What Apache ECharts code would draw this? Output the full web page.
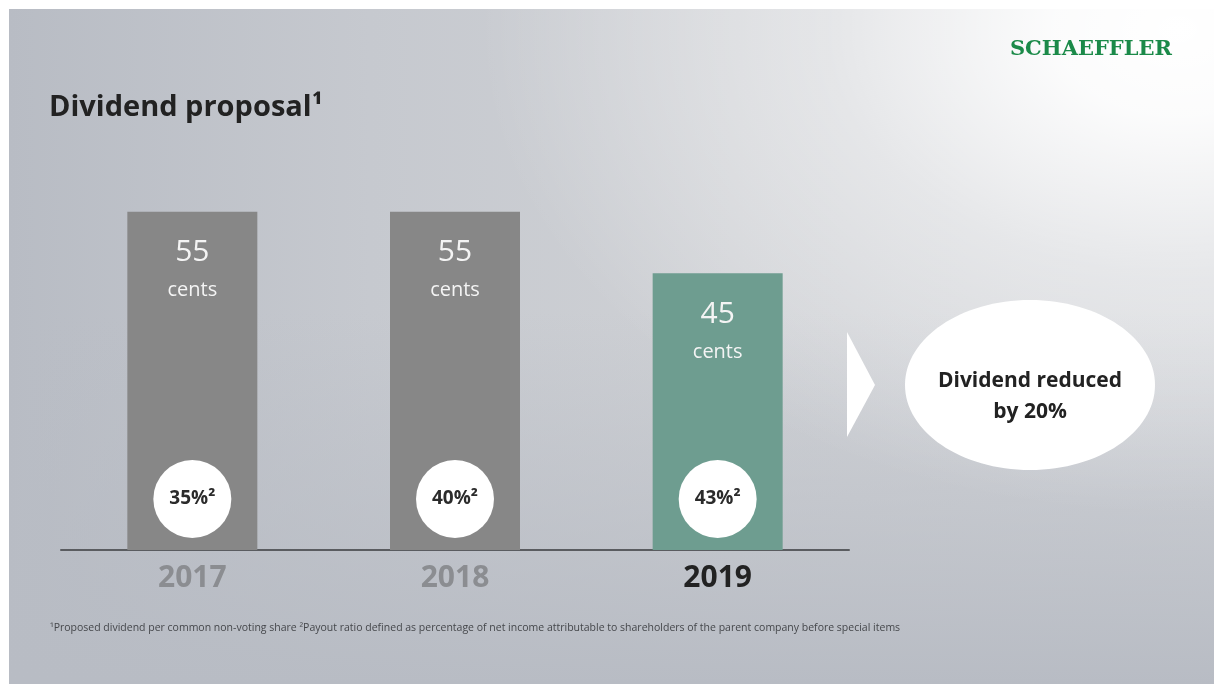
<!DOCTYPE html>
<html>
<head>
<meta charset="utf-8">
<script src="https://cdn.jsdelivr.net/npm/echarts@6/dist/echarts.min.js"></script>
<style>
  html, body { margin:0; padding:0; background:#ffffff; }
  #bg {
    position:absolute; left:9px; top:9px; width:1205px; height:675px;
    background:
      radial-gradient(ellipse 58% 72% at 97% 3%, rgba(255,255,255,1) 0%, rgba(255,255,255,0.92) 18%, rgba(255,255,255,0.45) 50%, rgba(255,255,255,0) 100%),
      linear-gradient(to bottom, rgba(184,188,196,0) 45%, rgba(184,188,196,1) 100%),
      linear-gradient(to right, #b8bcc4 0%, #c6c9cf 30%, #cfd1d5 60%, #d3d5d9 100%);
  }
  #chart { position:absolute; left:0; top:0; width:1214px; height:684px; }
</style>
</head>
<body>
<div id="bg"></div>
<div id="chart"></div>
<script>
// ---- data ----
const categories = ['2017', '2018', '2019'];
const dividendCents = [55, 55, 45];
const payoutRatio = ['35%', '40%', '43%'];

// ---- styles ----
const barColors = ['#878787', '#878787', '#6e9d90'];
const catColors = ['#8b8d91', '#8b8d91', '#222222'];
const FONT = '"Open Sans", "Noto Sans", sans-serif';

const chart = echarts.init(document.getElementById('chart'), null, { renderer: 'canvas' });

const option = {
  backgroundColor: 'transparent',
  animation: false,
  grid: { left: 61, right: 365, top: 181, bottom: 134, containLabel: false },
  xAxis: {
    type: 'category',
    data: categories.map((c, i) => ({ value: c, textStyle: { color: catColors[i] } })),
    axisLine: { show: true, lineStyle: { color: '#5a5c60', width: 2 } },
    axisTick: { show: false },
    axisLabel: { fontFamily: FONT, fontSize: 30, fontWeight: 'bold', margin: 13 }
  },
  yAxis: {
    type: 'value', min: 0, max: 60,
    show: false, splitLine: { show: false }
  },
  series: [
    {
      type: 'bar',
      barWidth: 130,
      data: dividendCents.map((v, i) => ({ value: v, itemStyle: { color: barColors[i] } })),
      label: {
        show: true,
        position: 'insideTop',
        distance: 22,
        formatter: p => '{v|' + p.value + '}\n{c|cents}',
        rich: {
          v: { fontFamily: FONT, fontSize: 30, color: '#f4f4f4', lineHeight: 38, align: 'center' },
          c: { fontFamily: FONT, fontSize: 20, color: '#f4f4f4', lineHeight: 38, align: 'center' }
        }
      }
    },
    {
      type: 'bar',
      barWidth: 130,
      barGap: '-100%',
      silent: true,
      itemStyle: { color: 'rgba(0,0,0,0)' },
      data: dividendCents.slice(),
      label: {
        show: true,
        position: 'insideBottom',
        distance: 12,
        formatter: p => payoutRatio[p.dataIndex] + '²',
        fontFamily: FONT,
        fontSize: 19,
        fontWeight: 'bold',
        color: '#2b2b2b',
        backgroundColor: '#ffffff',
        width: 78,
        height: 78,
        lineHeight: 78,
        borderRadius: 39,
        align: 'center'
      }
    }
  ],
  graphic: [
    {
      type: 'text', x: 49, y: 108,
      style: { text: 'Dividend proposal¹', font: 'bold 29px ' + FONT, fill: '#222222', textVerticalAlign: 'middle' }
    },
    {
      type: 'text', x: 1172, y: 50,
      style: { text: 'SCHAEFFLER', font: 'bold 21px "DejaVu Serif", serif', fill: '#1b8a49', textAlign: 'right', textVerticalAlign: 'middle' }
    },
    {
      type: 'polygon',
      shape: { points: [[847, 332], [875, 385], [847, 437]] },
      style: { fill: '#ffffff' }
    },
    {
      type: 'ellipse',
      shape: { cx: 1030, cy: 385, rx: 125, ry: 85 },
      style: { fill: '#ffffff' }
    },
    {
      type: 'text', x: 1030, y: 381,
      style: { text: 'Dividend reduced', font: 'bold 21px ' + FONT, fill: '#222222', textAlign: 'center', textVerticalAlign: 'middle' }
    },
    {
      type: 'text', x: 1030, y: 412,
      style: { text: 'by 20%', font: 'bold 21px ' + FONT, fill: '#222222', textAlign: 'center', textVerticalAlign: 'middle' }
    },
    {
      type: 'text', x: 50, y: 628,
      style: {
        text: '¹Proposed dividend per common non-voting share ²Payout ratio defined as percentage of net income attributable to shareholders of the parent company before special items',
        font: '10.5px ' + FONT, fill: '#45474b', textVerticalAlign: 'middle'
      }
    }
  ]
};
chart.setOption(option);
</script>
</body>
</html>
